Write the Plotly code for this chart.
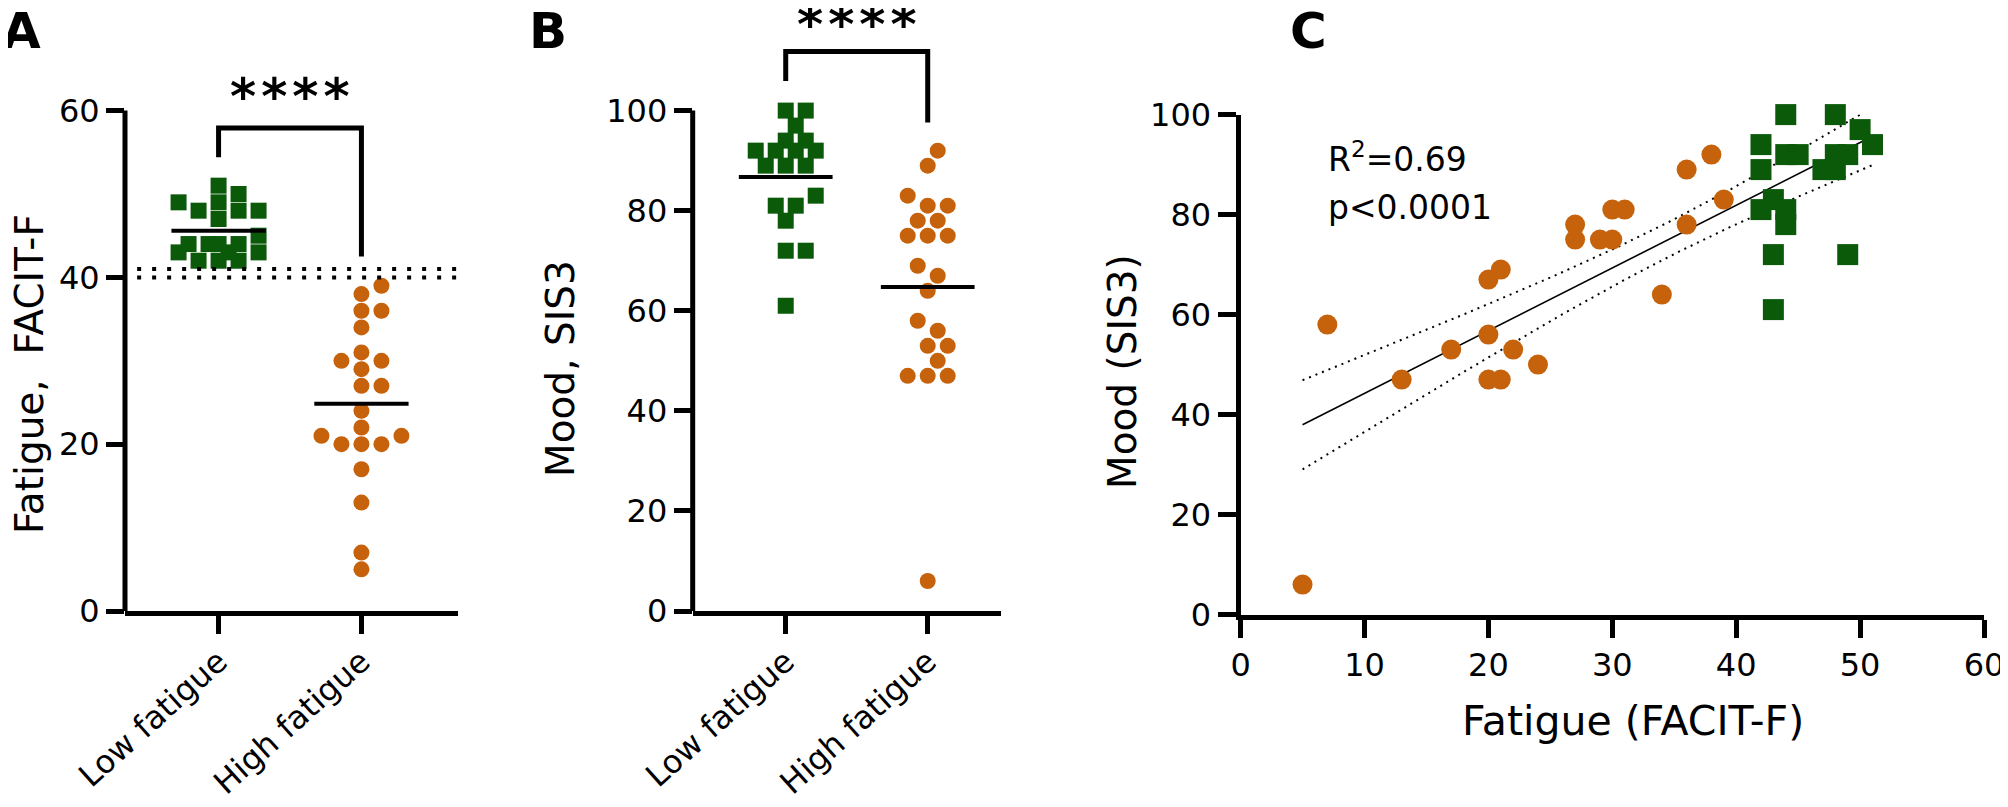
import numpy as np
import plotly.graph_objects as go

W, H = 2008, 807
PAGE_OFF = 8  # default body margin of the exported page: the plot div starts at (8, 8)
FONT = "DejaVu Sans"
GREEN = "#0A5A0A"
ORANGE = "#C5620B"

# ---------------- data ----------------
CATEGORIES = ["Low fatigue", "High fatigue"]
# paired observations (fatigue FACIT-F, mood SIS3) per group
FATIGUE_LOW = [44, 48, 50, 51, 42, 42, 44, 45, 48, 49, 47, 48, 43, 42, 44, 44, 43, 49, 43]
MOOD_LOW = [100, 100, 97, 94, 94, 89, 92, 92, 92, 92, 89, 89, 83, 81, 81, 78, 72, 72, 61]
FATIGUE_HIGH = [5, 7, 13, 17, 20, 20, 21, 20, 21, 22, 24, 27, 27, 29, 30, 30, 31, 34, 36, 36, 38, 39]
MOOD_HIGH = [6, 58, 47, 53, 56, 67, 69, 47, 47, 53, 50, 78, 75, 75, 75, 81, 81, 64, 78, 89, 92, 83]

A_TICKS = [0, 20, 40, 60]
B_TICKS = [0, 20, 40, 60, 80, 100]
C_XTICKS = [0, 10, 20, 30, 40, 50, 60]
C_YTICKS = [0, 20, 40, 60, 80, 100]
CUTOFF_LINES = [40, 41]
SIG_TEXT = "*\u200a*\u200a*\u200a*"
R2_TEXT = "R<sup>2</sup>=0.69"
P_TEXT = "p<0.0001"
T_CRIT = 2.0227  # t(0.975, df=39)

# ---------------- geometry (page pixels) ----------------
A_XR = [-0.655, 1.676]; A_XPX = [125, 458]
B_XR = [-0.655, 1.516]; B_XPX = [692.7, 1001]
Y0_PX = 611.0; YMAXTICK_PX = 110.6
A_YTOP = 63.0
B_YTOP = 119.5
a_ppu = (Y0_PX - YMAXTICK_PX) / A_TICKS[-1]
b_ppu = (Y0_PX - YMAXTICK_PX) / B_TICKS[-1]
a_top = Y0_PX - A_YTOP * a_ppu
b_top = Y0_PX - B_YTOP * b_ppu
C_XPX = [1240.6, 1984.0]; C_YPX = [614.6, 114.6]


def fx(p):
    return (p - PAGE_OFF) / W


def fy(p):
    return 1 - (p - PAGE_OFF) / H


def dom(a, b):
    return [max(0.0, min(1.0, a)), max(0.0, min(1.0, b))]


def swarm(values, ppx, ppy, diam=16.5, step=10.0, maxoff=40.0):
    vals = np.asarray(values, float)
    order = np.argsort(vals, kind="stable")
    cands = [0.0]
    k = 1
    while k * step <= maxoff + 1e-9:
        cands += [k * step, -k * step]
        k += 1
    placed = []
    offs = np.zeros(len(vals))
    for i in order:
        yv = vals[i] * ppy
        best, bestd = None, -1
        for c in cands:
            d = min([np.hypot(c - px, yv - py) for px, py in placed] or [1e9])
            if d >= diam - 1e-6:
                best = c
                break
            if d > bestd + 1e-6:
                best, bestd = c, d
        placed.append((best, yv))
        offs[i] = best / ppx
    return offs


a_ppx = (A_XPX[1] - A_XPX[0]) / (A_XR[1] - A_XR[0])
b_ppx = (B_XPX[1] - B_XPX[0]) / (B_XR[1] - B_XR[0])

fig = go.Figure()

groups = [(0, GREEN, "square"), (1, ORANGE, "circle")]

# Panel A
for (pos, col, sym), vals in zip(groups, [FATIGUE_LOW, FATIGUE_HIGH]):
    off = swarm(vals, a_ppx, a_ppu)
    fig.add_trace(go.Scatter(x=pos + off, y=vals, mode="markers", xaxis="x", yaxis="y",
                             marker=dict(symbol=sym, size=16, color=col, line=dict(width=0)),
                             cliponaxis=False, showlegend=False))
# Panel B
for (pos, col, sym), vals in zip(groups, [MOOD_LOW, MOOD_HIGH]):
    off = swarm(vals, b_ppx, b_ppu)
    fig.add_trace(go.Scatter(x=pos + off, y=vals, mode="markers", xaxis="x2", yaxis="y2",
                             marker=dict(symbol=sym, size=16, color=col, line=dict(width=0)),
                             cliponaxis=False, showlegend=False))

# Panel C regression
xall = np.array(FATIGUE_LOW + FATIGUE_HIGH, float)
yall = np.array(MOOD_LOW + MOOD_HIGH, float)
slope, icpt = np.polyfit(xall, yall, 1)
n = len(xall)
res = yall - (slope * xall + icpt)
s = np.sqrt(np.sum(res ** 2) / (n - 2))
xbar = xall.mean()
sxx = np.sum((xall - xbar) ** 2)
xs = np.linspace(xall.min(), xall.max(), 120)
yfit = slope * xs + icpt
se = s * np.sqrt(1 / n + (xs - xbar) ** 2 / sxx)
for yy, dash, w in [(yfit + T_CRIT * se, "2px,5px", 2), (yfit - T_CRIT * se, "2px,5px", 2), (yfit, "solid", 1.6)]:
    fig.add_trace(go.Scatter(x=xs, y=yy, mode="lines", xaxis="x3", yaxis="y3",
                             line=dict(color="black", width=w, dash=dash), showlegend=False,
                             hoverinfo="skip"))
fig.add_trace(go.Scatter(x=FATIGUE_HIGH, y=MOOD_HIGH, mode="markers", xaxis="x3", yaxis="y3",
                         marker=dict(symbol="circle", size=20, color=ORANGE), cliponaxis=False,
                         showlegend=False))
fig.add_trace(go.Scatter(x=FATIGUE_LOW, y=MOOD_LOW, mode="markers", xaxis="x3", yaxis="y3",
                         marker=dict(symbol="square", size=21, color=GREEN), cliponaxis=False,
                         showlegend=False))

shapes = []
# y axis lines for A and B
shapes.append(dict(type="line", xref="x domain", yref="y", x0=0, x1=0, y0=0, y1=A_TICKS[-1],
                   line=dict(color="black", width=5)))
shapes.append(dict(type="line", xref="x2 domain", yref="y2", x0=0, x1=0, y0=0, y1=B_TICKS[-1],
                   line=dict(color="black", width=5)))
# cutoff dotted lines in A
for c in CUTOFF_LINES:
    shapes.append(dict(type="line", xref="x", yref="y", x0=-0.57, x1=A_XR[1], y0=c, y1=c,
                       line=dict(color="black", width=4, dash="4px,11px")))
# mean lines
for xa, ya, datasets in [("x", "y", [FATIGUE_LOW, FATIGUE_HIGH]), ("x2", "y2", [MOOD_LOW, MOOD_HIGH])]:
    for pos, vals in enumerate(datasets):
        m = float(np.mean(vals))
        shapes.append(dict(type="line", xref=xa, yref=ya, x0=pos - 0.33, x1=pos + 0.33, y0=m, y1=m,
                           line=dict(color="black", width=4)))
# significance brackets (y top, left leg end, right leg end)
for xa, ya, (top, lft, rgt) in [("x", "y", (57.9, 54.4, 42.5)), ("x2", "y2", (111.8, 105.9, 97.6))]:
    shapes.append(dict(type="path", xref=xa, yref=ya,
                       path=f"M 0,{lft} L 0,{top} L 1,{top} L 1,{rgt}",
                       line=dict(color="black", width=5)))

ann = []
tf = dict(family=FONT, size=39, color="black")
ann.append(dict(text="Fatigue,  FACIT-F", xref="paper", yref="paper", x=fx(29), y=fy(374),
                textangle=-90, showarrow=False, font=tf, xanchor="center", yanchor="middle"))
ann.append(dict(text="Mood, SIS3", xref="paper", yref="paper", x=fx(561), y=fy(369),
                textangle=-90, showarrow=False, font=tf, xanchor="center", yanchor="middle"))
ann.append(dict(text="Mood (SIS3)", xref="paper", yref="paper", x=fx(1122), y=fy(372),
                textangle=-90, showarrow=False, font=tf, xanchor="center", yanchor="middle"))
ann.append(dict(text="Fatigue (FACIT-F)", xref="paper", yref="paper", x=fx(1633), y=fy(721),
                showarrow=False, font=dict(family=FONT, size=41, color="black"),
                xanchor="center", yanchor="middle"))
sf = dict(family=FONT, size=50, color="black", weight="bold")
ann.append(dict(text=SIG_TEXT, xref="x", yref="y", x=0.5, y=61.6, showarrow=False, font=sf,
                xanchor="center", yanchor="middle"))
ann.append(dict(text=SIG_TEXT, xref="x2", yref="y2", x=0.5, y=117.2, showarrow=False, font=sf,
                xanchor="center", yanchor="middle"))
lf = dict(family=FONT, size=50, color="black", weight="bold")
for lab, px in [("A", 0), ("B", 527), ("C", 1288)]:
    ann.append(dict(text=lab, xref="paper", yref="paper", x=fx(px), y=fy(0), showarrow=False,
                    font=lf, xanchor="left", yanchor="top"))
rf = dict(family=FONT, size=33, color="black")
ann.append(dict(text=R2_TEXT, xref="x3", yref="y3", x=6.9, y=91.5, showarrow=False, font=rf,
                xanchor="left", yanchor="middle"))
ann.append(dict(text=P_TEXT, xref="x3", yref="y3", x=6.9, y=81.5, showarrow=False, font=rf,
                xanchor="left", yanchor="middle"))

tick_font = dict(family=FONT, size=32, color="black")
cat_font = dict(family=FONT, size=32, color="black")
common = dict(showgrid=False, zeroline=False, ticks="outside", ticklen=18, tickwidth=5,
              tickcolor="black", linecolor="black", linewidth=5, fixedrange=True, automargin=False)

fig.update_layout(
    width=W, height=H, autosize=False,
    margin=dict(l=0, r=0, t=0, b=0, pad=0, autoexpand=False),
    paper_bgcolor="white", plot_bgcolor="white",
    font=dict(family=FONT, color="black"),
    showlegend=False, shapes=shapes, annotations=ann,
    xaxis=dict(domain=dom(fx(A_XPX[0]), fx(A_XPX[1])), range=A_XR, anchor="y", tickvals=[0, 1],
               ticktext=CATEGORIES, tickangle=-42, tickfont=cat_font, showline=True,
               ticklabelstandoff=-4, **common),
    yaxis=dict(domain=dom(fy(Y0_PX), fy(a_top)), range=[0, A_YTOP], anchor="x", tickvals=A_TICKS,
               tickfont=tick_font, showline=False, **common),
    xaxis2=dict(domain=dom(fx(B_XPX[0]), fx(B_XPX[1])), range=B_XR, anchor="y2", tickvals=[0, 1],
                ticktext=CATEGORIES, tickangle=-42, tickfont=cat_font, showline=True,
                ticklabelstandoff=-4, **common),
    yaxis2=dict(domain=dom(fy(Y0_PX), fy(b_top)), range=[0, B_YTOP], anchor="x2", tickvals=B_TICKS,
                tickfont=tick_font, showline=False, **common),
    xaxis3=dict(domain=dom(fx(C_XPX[0]), fx(C_XPX[1])), range=[0, 60], anchor="y3", tickvals=C_XTICKS,
                tickfont=tick_font, showline=True, ticklabeloverflow="allow", **common),
    yaxis3=dict(domain=dom(fy(C_YPX[0]), fy(C_YPX[1])), range=[0, 100], anchor="x3", tickvals=C_YTICKS,
                tickfont=tick_font, showline=True, **common),
)

fig.write_html("out.html")
